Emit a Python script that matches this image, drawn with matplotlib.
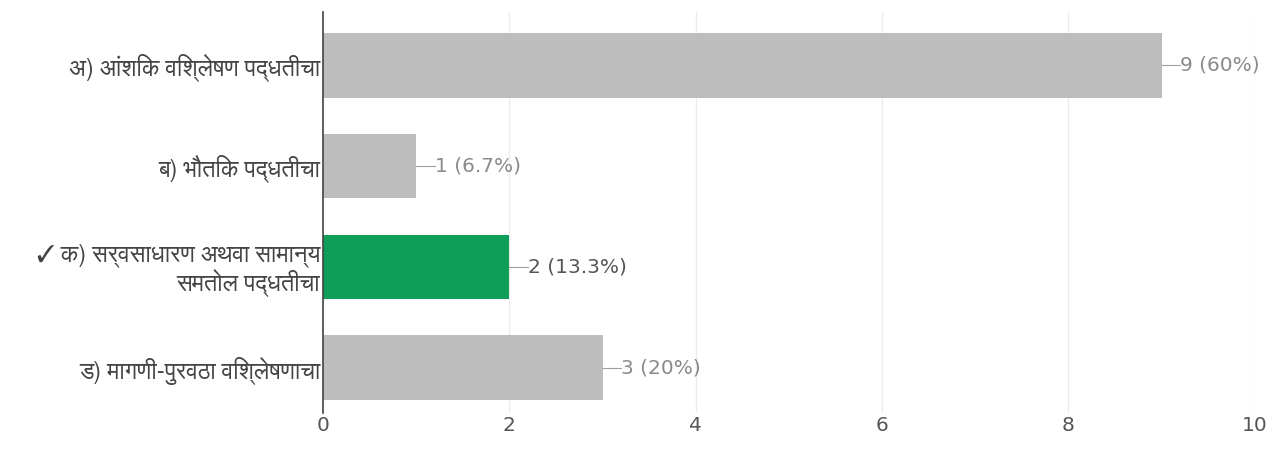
import matplotlib.pyplot as plt
from matplotlib import font_manager as fm

# Devanagari font if one is installed, otherwise fall back
deva_fonts = [f.name for f in fm.fontManager.ttflist
              if any(k in f.name for k in ['Devanagari', 'Lohit', 'Mukta', 'FreeSans', 'Mangal', 'Gargi', 'Kalimati'])]
families = deva_fonts[:1] + ['DejaVu Sans']
plt.rcParams['font.family'] = families

labels = ['अ) आंशिक विश्लेषण पद्धतीचा',
          'ब) भौतिक पद्धतीचा',
          '✓ क) सर्वसाधारण अथवा सामान्य\nसमतोल पद्धतीचा',
          'ड) मागणी-पुरवठा विश्लेषणाचा']
counts = [9, 1, 2, 3]
percents = ['60%', '6.7%', '13.3%', '20%']
correct = [False, False, True, False]

gray_bar = '#bdbdbd'
green_bar = '#0f9d58'

fig = plt.figure(figsize=(12.83, 4.54), dpi=100)
ax = fig.add_axes([0.2518, 0.09, 0.7262, 0.884])

y = list(range(len(labels)))
colors = [green_bar if c else gray_bar for c in correct]
ax.barh(y, counts, height=0.64, color=colors, zorder=2)

# 每个柱子右侧的计数标签
for i, (c, p) in enumerate(zip(counts, percents)):
    txt_color = '#555555' if correct[i] else '#8a8a8a'
    ax.plot([c, c + 0.2], [i, i], color='#a0a0a0', lw=0.8, zorder=3)
    ax.text(c + 0.2, i, f'{c} ({p})', va='center', ha='left',
            fontsize=14.5, color=txt_color, family='DejaVu Sans')

ax.set_xlim(0, 10)
ax.set_ylim(3.45, -0.53)
ax.set_xticks([0, 2, 4, 6, 8, 10])
ax.set_yticks(y)
ax.set_yticklabels(labels, fontsize=17, color='#444444', linespacing=1.1)
ax.tick_params(axis='y', length=0, pad=2)
ax.tick_params(axis='x', length=0, pad=2, labelsize=14.5, labelcolor='#555555')
for t in ax.get_xticklabels():
    t.set_family('DejaVu Sans')
ax.grid(axis='x', color='#ececec', lw=1, zorder=0)

for s in ['top', 'right', 'bottom']:
    ax.spines[s].set_visible(False)
ax.spines['left'].set_color('#444444')
ax.spines['left'].set_linewidth(1.2)
ax.spines['left'].set_zorder(4)

fig.savefig('out.png', dpi=100)
